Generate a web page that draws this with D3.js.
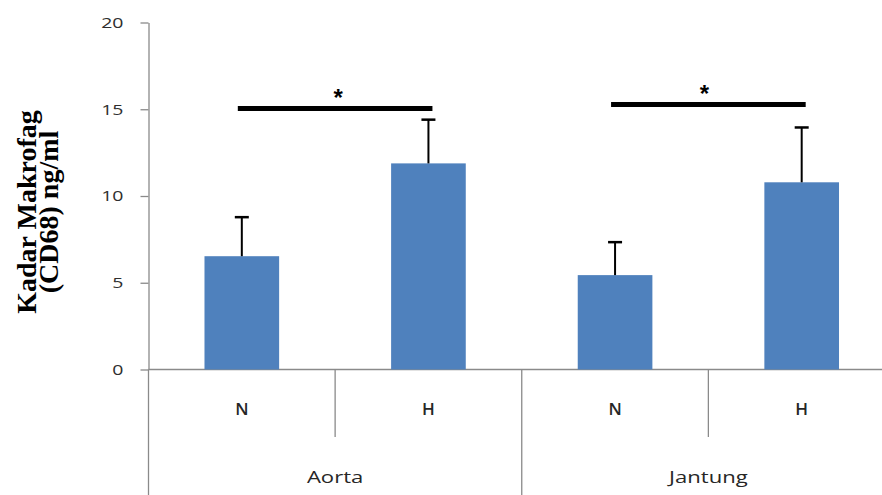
<!DOCTYPE html>
<html>
<head>
<meta charset="utf-8">
<script src="https://d3js.org/d3.v7.min.js"></script>
<style>
	body { margin: 0; background: #fff; }
	svg { display: block; }
</style>
</head>
<body>
<script>

	var w = 882;
	var h = 495;

	// data
	var groups = ["Aorta", "Jantung"];
	var subgroups = ["N", "H"];
	var aortaMeans = [6.53, 11.88];
	var aortaErr = [2.25, 2.52];
	var jantungMeans = [5.44, 10.79];
	var jantungErr = [1.9, 3.16];
	var sigLevels = [15.05, 15.28];   // height of the significance bars
	var yTicks = [0, 5, 10, 15, 20];

	var means = [aortaMeans, jantungMeans];
	var errs = [aortaErr, jantungErr];

	var bars = [];
	groups.forEach(function(g, gi) {
		subgroups.forEach(function(s, si) {
			bars.push({group: g, sub: s, mean: means[gi][si], err: errs[gi][si]});
		});
	});

	var svg = d3.select("body")
		.append("svg")
		.attr("width", w)
		.attr("height", h);

	var plotLeft = 148.5, plotRight = 895, plotTop = 22.5, plotBottom = 369.5;

	var yScale = d3.scaleLinear()
		.domain([0, 20])
		.range([plotBottom, plotTop]);

	var xGroup = d3.scaleBand()
		.domain(groups)
		.range([plotLeft, plotRight]);

	var xSub = d3.scaleBand()
		.domain(subgroups)
		.range([0, xGroup.bandwidth()]);

	function barX(d) {
		return xGroup(d.group) + xSub(d.sub) + xSub.bandwidth() * 0.3;
	}
	function barMid(d) {
		return xGroup(d.group) + xSub(d.sub) + xSub.bandwidth() / 2;
	}
	var barW = xSub.bandwidth() * 0.4;

	var sansFont = "'Open Sans', 'DejaVu Sans', sans-serif";
	var stretch = 1.3;

	// y axis
	var yAxis = d3.axisLeft(yScale)
		.tickValues(yTicks)
		.tickSize(8)
		.tickSizeOuter(0);

	var gy = svg.append("g")
		.attr("transform", "translate(" + plotLeft + ",0)")
		.call(yAxis);
	gy.select(".domain").attr("stroke", "#8a8a8a").attr("stroke-width", 1.3);
	gy.selectAll(".tick line").attr("stroke", "#8a8a8a").attr("stroke-width", 1.3);
	gy.selectAll(".tick text")
		.attr("x", -25 / stretch)
		.attr("transform", "scale(" + stretch + ",1)")
		.attr("font-family", sansFont)
		.attr("font-size", "15px")
		.attr("fill", "#2e2e2e");

	// category axis (two level table)
	var axisCol = "#8a8a8a";
	svg.append("line")
		.attr("x1", plotLeft).attr("x2", w)
		.attr("y1", plotBottom).attr("y2", plotBottom)
		.attr("stroke", axisCol).attr("stroke-width", 1.3);

	svg.selectAll(".gsep")
		.data(groups.concat(["end"]))
		.enter()
		.append("line")
		.attr("class", "gsep")
		.attr("x1", function(d, i) { return plotLeft + i * xGroup.bandwidth(); })
		.attr("x2", function(d, i) { return plotLeft + i * xGroup.bandwidth(); })
		.attr("y1", plotBottom)
		.attr("y2", h)
		.attr("stroke", axisCol).attr("stroke-width", 1.3);

	svg.selectAll(".ssep")
		.data(groups)
		.enter()
		.append("line")
		.attr("class", "ssep")
		.attr("x1", function(d) { return xGroup(d) + xSub("H"); })
		.attr("x2", function(d) { return xGroup(d) + xSub("H"); })
		.attr("y1", plotBottom)
		.attr("y2", 437)
		.attr("stroke", axisCol).attr("stroke-width", 1.3);

	svg.selectAll(".sublabel")
		.data(bars)
		.enter()
		.append("text")
		.attr("class", "sublabel")
		.text(function(d) { return d.sub; })
		.attr("x", barMid)
		.attr("y", 409)
		.attr("dy", "0.36em")
		.attr("text-anchor", "middle")
		.attr("font-family", sansFont)
		.attr("font-size", "17px")
		.attr("font-weight", 600)
		.attr("fill", "#262626");

	svg.selectAll(".grouplabel")
		.data(groups)
		.enter()
		.append("text")
		.attr("class", "grouplabel")
		.text(function(d) { return d; })
		.attr("transform", function(d) {
			return "translate(" + (xGroup(d) + xGroup.bandwidth() / 2) + ",477) scale(" + stretch + ",1)";
		})
		.attr("dy", "0.36em")
		.attr("text-anchor", "middle")
		.attr("font-family", sansFont)
		.attr("font-size", "17px")
		.attr("fill", "#262626");

	// bars
	svg.selectAll(".bar")
		.data(bars)
		.enter()
		.append("rect")
		.attr("class", "bar")
		.attr("x", barX)
		.attr("y", function(d) { return yScale(d.mean); })
		.attr("width", barW)
		.attr("height", function(d) { return yScale(0) - yScale(d.mean); })
		.attr("fill", "#4f81bd");

	// error bars (upper half only)
	svg.selectAll(".err")
		.data(bars)
		.enter()
		.append("line")
		.attr("class", "err")
		.attr("x1", barMid).attr("x2", barMid)
		.attr("y1", function(d) { return yScale(d.mean); })
		.attr("y2", function(d) { return yScale(d.mean + d.err); })
		.attr("stroke", "#000").attr("stroke-width", 2);

	svg.selectAll(".cap")
		.data(bars)
		.enter()
		.append("line")
		.attr("class", "cap")
		.attr("x1", function(d) { return barMid(d) - 7; })
		.attr("x2", function(d) { return barMid(d) + 7; })
		.attr("y1", function(d) { return yScale(d.mean + d.err); })
		.attr("y2", function(d) { return yScale(d.mean + d.err); })
		.attr("stroke", "#000").attr("stroke-width", 2.5);

	// significance bars
	var sig = groups.map(function(g, i) {
		return {
			x1: xGroup(g) + xSub("N") + xSub.bandwidth() / 2 - 4,
			x2: xGroup(g) + xSub("H") + xSub.bandwidth() / 2 + 4,
			level: sigLevels[i]
		};
	});

	svg.selectAll(".sig")
		.data(sig)
		.enter()
		.append("line")
		.attr("class", "sig")
		.attr("x1", function(d) { return d.x1; })
		.attr("x2", function(d) { return d.x2; })
		.attr("y1", function(d) { return yScale(d.level); })
		.attr("y2", function(d) { return yScale(d.level); })
		.attr("stroke", "#000").attr("stroke-width", 5);

	svg.selectAll(".star")
		.data(sig)
		.enter()
		.append("text")
		.attr("class", "star")
		.text("*")
		.attr("x", function(d, i) { return (d.x1 + d.x2) / 2 + (i == 0 ? 3 : -4); })
		.attr("y", function(d) { return yScale(d.level) - 2; })
		.attr("text-anchor", "middle")
		.attr("font-family", "'Liberation Sans', Arial, sans-serif")
		.attr("font-size", "24px")
		.attr("font-weight", "bold")
		.attr("fill", "#000");

	// y title
	var titleLines = ["Kadar Makrofag", "(CD68) ng/ml"];
	svg.selectAll(".ytitle")
		.data(titleLines)
		.enter()
		.append("text")
		.attr("class", "ytitle")
		.text(function(d) { return d; })
		.attr("transform", function(d, i) {
			return "translate(" + (36 + i * 22) + ",212) rotate(-90)";
		})
		.attr("text-anchor", "middle")
		.attr("font-family", "'Liberation Serif', 'Times New Roman', serif")
		.attr("font-size", "28px")
		.attr("font-weight", "bold")
		.attr("fill", "#000");

</script>
</body>
</html>
